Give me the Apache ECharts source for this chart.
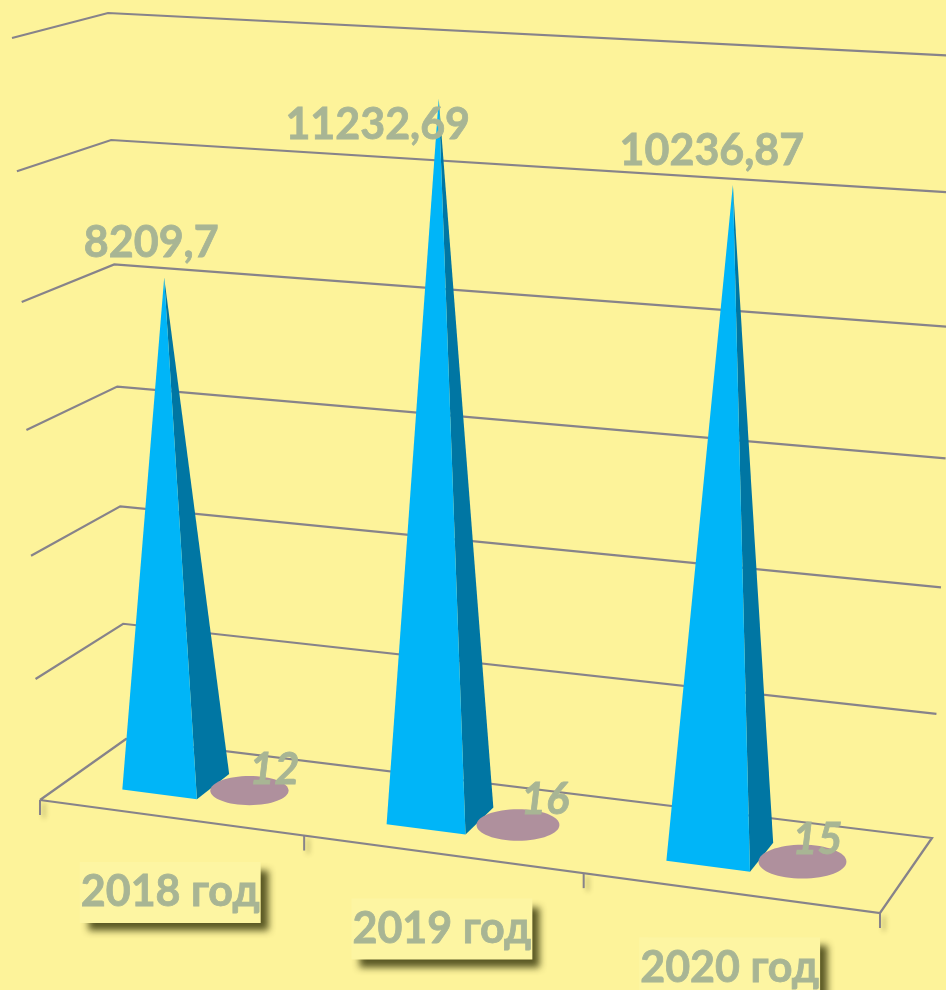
<!DOCTYPE html>
<html>
<head>
<meta charset="utf-8">
<style>html,body{margin:0;padding:0;background:#FDF39A}#c{width:946px;height:990px}</style>
<script src="https://cdn.jsdelivr.net/npm/echarts@6/dist/echarts.min.js"></script>
</head>
<body>
<div id="c"></div>
<script>
// --- data ---
const categories = ['2018 год', '2019 год', '2020 год'];
const mainValues = [8209.7, 11232.69, 10236.87];
const smallValues = [12, 16, 15];
const mainLabels = ['8209,7', '11232,69', '10236,87'];
const smallLabels = ['12', '16', '15'];
const valueTicks = [0, 2000, 4000, 6000, 8000, 10000, 12000];

// --- 3D projection box: corners of the chart's space on the canvas ---
// key: x(0 left,1 right) / depth(0 front,1 back) / height(0 floor,1 top)
const BOX = {
  '000': [40, 800], '100': [880, 913], '010': [126, 739], '110': [932, 838],
  '001': [12, 38],  '101': [905, 91],  '011': [108, 13],  '111': [960, 56]
};
const PERSP_X = 0.09, PERSP_H = 0.06;
const warp = (t, k) => t / (1 + k * (1 - t));
const lerp = (a, b, t) => [a[0] + (b[0] - a[0]) * t, a[1] + (b[1] - a[1]) * t];
function box(u, d, h) {
  const wu = warp(u, PERSP_X), wh = warp(h, PERSP_H);
  const f0 = lerp(BOX['000'], BOX['100'], wu), b0 = lerp(BOX['010'], BOX['110'], wu);
  const f1 = lerp(BOX['001'], BOX['101'], wu), b1 = lerp(BOX['011'], BOX['111'], wu);
  return lerp(lerp(f0, b0, d), lerp(f1, b1, d), wh);
}
// Goes through the library's own scales, then through the box.
function project(api, params, x, v, d) {
  const g = params.coordSys;
  const p = api.coord([x, v]);
  return box((p[0] - g.x) / g.width, d, (g.y + g.height - p[1]) / g.height);
}

// --- layout ---
const DEPTH_C = 0.495, DEPTH_HALF = 0.2;
const PYR_OFFSET = -0.133, PYR_HALF = 0.144;
const ELL_OFFSET = 0.151, ELL_HALF = 0.15, ELL_DEPTH_HALF = 0.23;
const MAIN_NUDGE = [[-13, -35], [-61, 27], [-21, -34]];
const SMALL_NUDGE = [[25, -20], [27, -25], [15, -22]];
const TEXT = '#A8B594', LINE = '#87838A';
const FONT = '"Lato","Open Sans",sans-serif';

const option = {
  backgroundColor: '#FDF39A',
  animation: false,
  grid: { left: 0, right: 0, top: 0, bottom: 0 },
  xAxis: { type: 'value', min: 0, max: 3, interval: 1, show: false },
  yAxis: { type: 'value', min: 0, max: 12000, interval: 2000, show: false },
  series: [
    { // walls and floor
      type: 'custom', silent: true, data: valueTicks.map(v => [0, v]),
      renderItem(params, api) {
        const v = api.value(1);
        const pts = [project(api, params, 0, v, 0), project(api, params, 0, v, 1), project(api, params, 3, v, 1)];
        if (v === 0) pts.push(project(api, params, 3, v, 0), pts[0]);
        return { type: 'polyline', shape: { points: pts }, style: { stroke: LINE, lineWidth: 2.2, fill: null } };
      }
    },
    { // ticks under the front edge
      type: 'custom', silent: true, data: [0, 1, 2, 3].map(x => [x, 0]),
      renderItem(params, api) {
        const p = project(api, params, api.value(0), 0, 0);
        return { type: 'line', shape: { x1: p[0], y1: p[1], x2: p[0], y2: p[1] + 15 },
          style: { stroke: LINE, lineWidth: 2, shadowBlur: 5, shadowOffsetX: 4, shadowOffsetY: 3, shadowColor: 'rgba(70,70,30,0.45)' } };
      }
    },
    { // pyramids
      type: 'custom', silent: true, data: mainValues.map((v, i) => [i + 0.5, v]),
      renderItem(params, api) {
        const c = api.value(0) + PYR_OFFSET, v = api.value(1);
        const fl = project(api, params, c - PYR_HALF, 0, DEPTH_C - DEPTH_HALF);
        const fr = project(api, params, c + PYR_HALF, 0, DEPTH_C - DEPTH_HALF);
        const br = project(api, params, c + PYR_HALF, 0, DEPTH_C + DEPTH_HALF);
        const apex = project(api, params, c, v, DEPTH_C);
        return { type: 'group', children: [
          { type: 'polygon', shape: { points: [fr, br, apex] }, style: { fill: '#0076A3' } },
          { type: 'polygon', shape: { points: [fl, fr, apex] }, style: { fill: '#00B5F8' } }
        ] };
      }
    },
    { // flat discs for the small series
      type: 'custom', silent: true, data: smallValues.map((v, i) => [i + 0.5, v]),
      renderItem(params, api) {
        const c = api.value(0) + ELL_OFFSET, v = api.value(1);
        const m = project(api, params, c, v, DEPTH_C);
        const l = project(api, params, c - ELL_HALF, v, DEPTH_C), r = project(api, params, c + ELL_HALF, v, DEPTH_C);
        const f = project(api, params, c, v, DEPTH_C - ELL_DEPTH_HALF), b = project(api, params, c, v, DEPTH_C + ELL_DEPTH_HALF);
        return { type: 'ellipse', shape: { cx: m[0], cy: m[1], rx: (r[0] - l[0]) / 2, ry: (f[1] - b[1]) / 2 },
          style: { fill: '#AF909D' } };
      }
    },
    { // category boxes
      type: 'custom', silent: true, data: categories.map((c, i) => [i + 0.5, 0]),
      renderItem(params, api) {
        const i = params.dataIndex;
        const p = project(api, params, api.value(0), 0, 0);
        return { type: 'text', style: { text: categories[i], x: p[0], y: p[1] + 75, align: 'center', verticalAlign: 'middle',
          font: 'bold 43px ' + FONT, lineHeight: 36, fill: TEXT, stroke: TEXT, lineWidth: 0.8, backgroundColor: '#FDF5A2', padding: [20, 1, 5, 1],
          shadowBlur: 7, shadowOffsetX: 8, shadowOffsetY: 8, shadowColor: 'rgba(60,60,15,0.85)' } };
      }
    },
    { // value labels of the pyramids
      type: 'custom', silent: true, data: mainValues.map((v, i) => [i + 0.5, v]),
      renderItem(params, api) {
        const i = params.dataIndex;
        const p = project(api, params, api.value(0) + PYR_OFFSET, api.value(1), DEPTH_C);
        return { type: 'text', style: { text: mainLabels[i], x: p[0] + MAIN_NUDGE[i][0], y: p[1] + MAIN_NUDGE[i][1],
          align: 'center', verticalAlign: 'middle', font: 'bold 43px ' + FONT, fill: TEXT, stroke: TEXT, lineWidth: 0.8 } };
      }
    },
    { // value labels of the discs
      type: 'custom', silent: true, data: smallValues.map((v, i) => [i + 0.5, v]),
      renderItem(params, api) {
        const i = params.dataIndex;
        const p = project(api, params, api.value(0) + ELL_OFFSET, api.value(1), DEPTH_C);
        return { type: 'text', style: { text: smallLabels[i], x: p[0] + SMALL_NUDGE[i][0], y: p[1] + SMALL_NUDGE[i][1],
          align: 'center', verticalAlign: 'middle', font: 'italic bold 43px ' + FONT, fill: TEXT, stroke: TEXT, lineWidth: 0.8 } };
      }
    }
  ]
};
const chart = echarts.init(document.getElementById('c'), null, { renderer: 'canvas' });
chart.setOption(option);
</script>
</body>
</html>
